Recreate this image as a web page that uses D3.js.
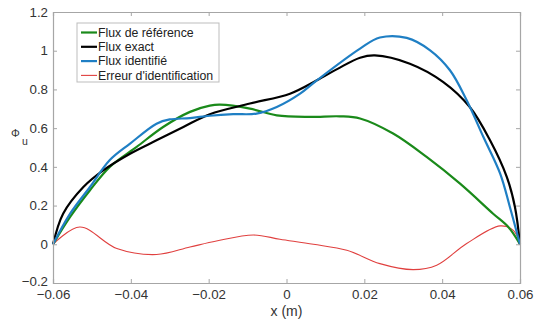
<!DOCTYPE html>
<html><head><meta charset="utf-8">
<script src="https://cdn.jsdelivr.net/npm/d3@7"></script>
<style>body{margin:0;background:#fff;}svg{display:block;font-family:"Liberation Sans",Arial,sans-serif;}</style>
</head><body><svg id="c" width="540" height="323"></svg>
<script>
const xTicks = [-0.06,-0.04,-0.02,0,0.02,0.04,0.06];
const yTicks = [-0.2,0,0.2,0.4,0.6,0.8,1,1.2];
const seriesNames = ["Flux de référence","Flux exact","Flux identifié","Erreur d'identification"];
const seriesColors = ["#1a8a1a","#000000","#1f7fc4","#e0403f"];

const xRef = [-0.06,-0.0556,-0.0505,-0.0454,-0.0385,-0.0317,-0.0248,-0.0197,-0.0171,-0.0094,-0.0025,0.006,0.0137,0.0189,0.0274,0.036,0.0446,0.0531,0.057,0.06];
const yRef = [0,0.141,0.279,0.40,0.503,0.606,0.684,0.716,0.721,0.701,0.666,0.658,0.661,0.65,0.572,0.451,0.313,0.158,0.089,0];

const xExact = [-0.06,-0.0574,-0.0522,-0.0471,-0.0402,-0.0334,-0.0265,-0.0197,-0.0094,0.0009,0.0078,0.013,0.0189,0.0227,0.0317,0.0403,0.0471,0.0523,0.0566,0.0587,0.06];
const yExact = [0,0.158,0.296,0.382,0.468,0.537,0.606,0.672,0.727,0.778,0.847,0.905,0.964,0.976,0.933,0.838,0.709,0.537,0.348,0.193,0];

const xIdent = [-0.06,-0.0556,-0.0505,-0.0454,-0.0402,-0.0334,-0.03,-0.0248,-0.0197,-0.0137,-0.0077,-0.0025,0.0035,0.0078,0.0189,0.024,0.0309,0.0369,0.042,0.0463,0.0506,0.0549,0.0574,0.06];
const yIdent = [0,0.158,0.296,0.435,0.52,0.623,0.645,0.652,0.664,0.672,0.675,0.709,0.778,0.847,1.011,1.068,1.066,1.002,0.899,0.744,0.554,0.365,0.193,0];

const xErr = [-0.06,-0.0531,-0.0436,-0.0334,-0.0248,-0.018,-0.0085,-0.0017,0.0069,0.0155,0.024,0.0326,0.0386,0.0463,0.0549,0.0583,0.06];
const yErr = [0,0.089,-0.022,-0.053,-0.014,0.017,0.048,0.026,0.0,-0.031,-0.10,-0.131,-0.108,0.004,0.095,0.072,0];

const W=540,H=323, L=53,R=520,T=12,B=283;
const svg=d3.select("#c");
const x=d3.scaleLinear().domain([-0.06,0.06]).range([L,R]);
const y=d3.scaleLinear().domain([-0.2,1.2]).range([B,T]);
const axCol="#a6a6a6", txtCol="#333";

const series=[[xRef,yRef,2.2],[xExact,yExact,2.2],[xIdent,yIdent,2.2],[xErr,yErr,1.1]];
const line=d3.line().x(d=>x(d[0])).y(d=>y(d[1])).curve(d3.curveCatmullRom.alpha(0.5));
[3,0,1,2].forEach(i=>{
  const [xs,ys,w]=series[i];
  svg.append("path").datum(xs.map((v,k)=>[v,ys[k]])).attr("d",line)
    .attr("fill","none").attr("stroke",seriesColors[i]).attr("stroke-width",w).attr("stroke-linejoin","round");
});

const fmt=d=>d3.format("")(+d.toFixed(2));
const gB=svg.append("g").attr("transform",`translate(0,${B})`).call(d3.axisBottom(x).tickValues(xTicks).tickSize(-4).tickPadding(7).tickFormat(fmt));
const gT=svg.append("g").attr("transform",`translate(0,${T})`).call(d3.axisTop(x).tickValues(xTicks).tickSize(-4).tickFormat(""));
const gL=svg.append("g").attr("transform",`translate(${L},0)`).call(d3.axisLeft(y).tickValues(yTicks).tickSize(-4).tickPadding(5).tickFormat(fmt));
const gR=svg.append("g").attr("transform",`translate(${R},0)`).call(d3.axisRight(y).tickValues(yTicks).tickSize(-4).tickFormat(""));
[gB,gT,gL,gR].forEach(g=>{
  g.select(".domain").attr("stroke",axCol).attr("stroke-width",1.2);
  g.selectAll(".tick line").attr("stroke",axCol);
  g.selectAll(".tick text").attr("fill",txtCol).style("font-size","13.3px").style("font-family","'Liberation Sans',Arial,sans-serif");
});
gL.selectAll(".tick text").filter(d=>d===-0.2).attr("dy","0.2em");

svg.append("text").attr("x",(L+R)/2).attr("y",316).attr("text-anchor","middle").attr("fill",txtCol).style("font-size","14px").text("x (m)");
const yl=svg.append("text").attr("x",11).attr("y",137).attr("fill",txtCol).style("font-size","11px");
yl.append("tspan").text("Φ");
yl.append("tspan").attr("x",22).attr("y",145).style("font-size","10.5px").text("u");

const lg=svg.append("g");
lg.append("rect").attr("x",77).attr("y",23).attr("width",142).attr("height",59).attr("fill","#fff").attr("stroke","#bdbdbd").attr("stroke-width",1);
seriesNames.forEach((n,i)=>{
  const yy=32.5+i*14.3;
  lg.append("line").attr("x1",81).attr("x2",97).attr("y1",yy).attr("y2",yy).attr("stroke",seriesColors[i]).attr("stroke-width",i<3?2.2:1.1);
  lg.append("text").attr("x",98).attr("y",yy+4.3).attr("fill","#222").style("font-size","12.3px").text(n);
});
</script></body></html>
